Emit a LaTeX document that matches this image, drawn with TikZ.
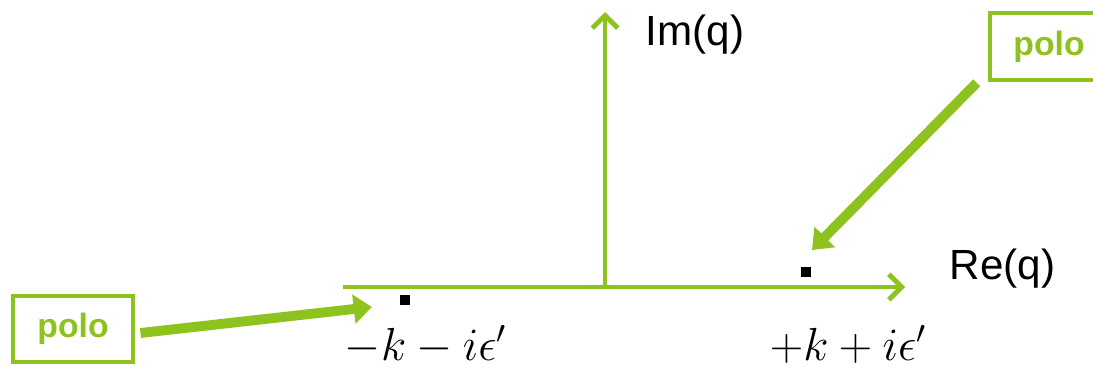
\RequirePackage{fix-cm}
\documentclass[tikz,border=0pt]{standalone}
\usepackage{fontspec}
\newfontfamily\labelfont{Liberation Sans}
\definecolor{PoloGreen}{HTML}{8DC21F}
\usetikzlibrary{arrows.meta, positioning}

\begin{document}
\begin{tikzpicture}[x=0.025cm, y=-0.025cm,
    axis/.style={PoloGreen, line width=3.5pt, -{Straight Barb[length=9pt,width=18pt]}},
    polotext/.style={minimum width=3cm, minimum height=1.65cm, inner sep=0pt,
      text=PoloGreen, font=\labelfont\bfseries\fontsize{24}{28}\selectfont},
    polobox/.style={polotext, draw=PoloGreen, line width=3.5pt},
    poloarrow/.style={PoloGreen, line width=7pt, -{Triangle[length=13pt,width=20pt]}},
    pole/.style={fill=black, minimum size=0.25cm, inner sep=0pt},
    axlabel/.style={font=\labelfont\fontsize{30}{34}\selectfont, anchor=base west},
    mathlabel/.style={font=\fontsize{33}{38}\selectfont, anchor=base west}]
  \useasboundingbox (0,0) rectangle (1093,370);
  % complex plane axes
  \coordinate (O) at (605,287);
  \coordinate (reStart) at (343,287);
  \coordinate (reEnd) at (905,287);
  \coordinate (imEnd) at (605,12);
  \draw[axis] (reStart) -- (reEnd);
  \draw[axis] (O) -- (imEnd);
  \node[axlabel] (imLabel) at (641,45) {Im(q)};
  \node[axlabel] (reLabel) at (945,279) {Re(q)};
  % the two poles
  \node[pole] (poleL) at (405,300) {};
  \node[pole] (poleR) at (806,272) {};
  \node[mathlabel] (labL) at (340,360) {$-k-i\epsilon'$};
  \node[mathlabel] (labR) at (765,360) {$+k+i\epsilon'$};
  % pointers (right box runs off the page, so no right side)
  \node[polobox] (poloL) at (73,329) {polo};
  \node[polotext] (poloR) at (1049,46.5) {polo};
  \draw[PoloGreen, line width=3.5pt] (1093,13) -| (990,80) -- (1093,80);
  \coordinate (tipL) at (372,307);
  \coordinate (tipR) at (812,250);
  \draw[poloarrow] ([shift={(5,4)}]poloL.east) -- (tipL);
  \draw[poloarrow] ([shift={(-12,3)}]poloR.south west) -- (tipR);
\end{tikzpicture}
\end{document}
